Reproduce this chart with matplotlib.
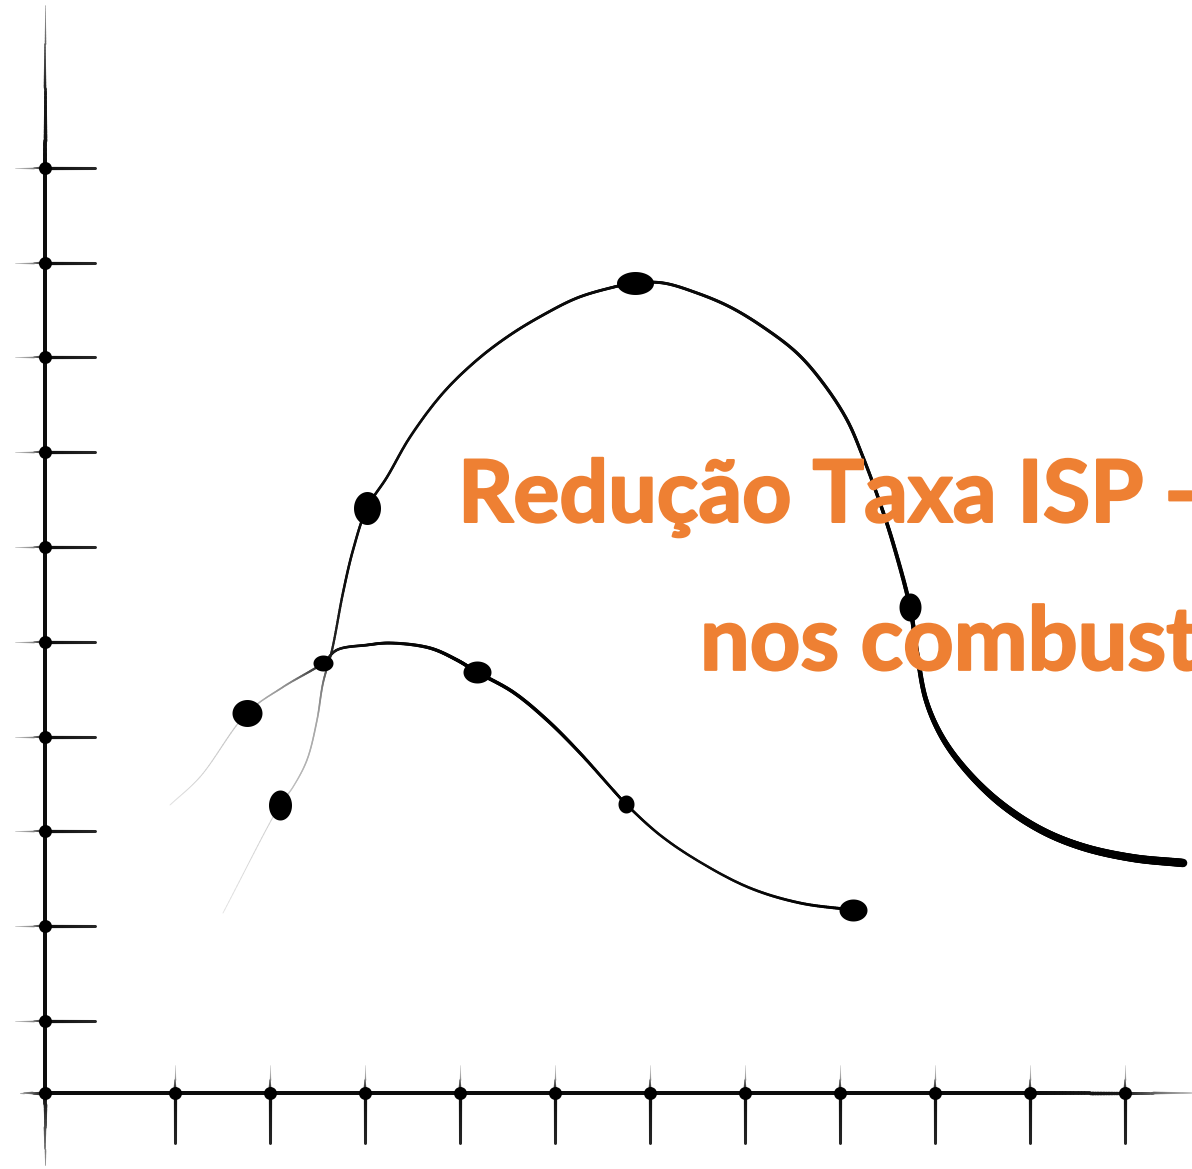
import numpy as np
import matplotlib
matplotlib.use("Agg")
import matplotlib.pyplot as plt
import matplotlib.patheffects as pe
from matplotlib.collections import LineCollection
from matplotlib.path import Path

# ---------------- data (axis units: tick k sits at integer k) ----------------
x_ticks = [1, 2, 3, 4, 5, 6, 7, 8, 9, 10, 11]
y_ticks = [1, 2, 3, 4, 5, 6, 7, 8, 9, 10]

curve_a_x = [1.505, 2.105, 2.242, 2.389, 2.495, 2.558, 2.653, 2.768, 2.874, 3.021,
             3.232, 3.474, 3.821, 4.179, 4.526, 4.874, 5.232, 5.579, 5.842, 6.137,
             6.495, 6.842, 7.189, 7.547, 7.821, 8.074, 8.242, 8.421, 8.558,
             8.737, 8.811, 8.905, 9.074, 9.326, 9.684, 10.116, 10.558, 11.084, 11.611]
curve_a_y = [2.139, 3.278, 3.468, 3.753, 4.175, 4.565, 4.914, 5.515, 5.968, 6.411,
             6.738, 7.160, 7.624, 7.973, 8.236, 8.447, 8.627, 8.732, 8.785, 8.785,
             8.679, 8.532, 8.321, 8.046, 7.730, 7.340, 6.949, 6.464, 6.042,
             5.367, 4.882, 4.386, 3.996, 3.648, 3.300, 3.015, 2.835, 2.719, 2.667]
curve_a_markers = [1, 9, 18, 29]

curve_b_x = [0.947, 1.263, 1.758, 2.137, 2.558, 2.705, 3.021, 3.263, 3.684, 3.968,
             4.179, 4.558, 4.916, 5.263, 5.611, 5.747, 6.105, 6.526, 7.053, 7.579, 8.137]
curve_b_y = [3.278, 3.574, 4.249, 4.523, 4.776, 4.914, 4.966, 4.987, 4.934, 4.808,
             4.681, 4.470, 4.175, 3.827, 3.437, 3.289, 2.962, 2.677, 2.403, 2.245, 2.171]
curve_b_markers = [2, 4, 10, 15, 20]

title_line1 = "Redução Taxa ISP -"
title_line2 = "nos combustíveis"

# ---------------- styles ----------------
PX = 0.72  # points per pixel at dpi=100
a_style_x = [1.505, 2.105, 2.5, 2.65, 2.8, 8.3, 8.74, 9.1, 9.7, 11.61]
a_style_w = [0.8, 1.0, 1.6, 2.2, 2.5, 3.2, 4.2, 5.5, 7.0, 8.5]
a_style_g = [0.88, 0.8, 0.65, 0.15, 0.05, 0.03, 0.0, 0.0, 0.0, 0.0]
a_marker_wh = [(23, 30), (27, 33), (37, 23), (22, 28)]

b_style_x = [0.947, 1.758, 2.2, 2.56, 2.8, 4.2, 5.0, 5.7, 6.5, 8.14]
b_style_w = [0.8, 1.2, 1.8, 2.4, 2.6, 3.6, 3.4, 2.6, 2.4, 3.0]
b_style_g = [0.88, 0.75, 0.55, 0.15, 0.05, 0.0, 0.0, 0.02, 0.05, 0.0]
b_marker_wh = [(30, 27), (20, 16), (28, 22), (16, 18), (28, 22)]

ORANGE = "#EE8033"

# ---------------- figure ----------------
fig = plt.figure(figsize=(11.92, 11.69), dpi=100)
ax = fig.add_axes([0, 0, 1, 1])
ax.set_xlim(-0.842, 11.705)
ax.set_ylim(-0.561, 11.77)
ax.axis("off")


def centripetal(xs, ys, n=30):
    P = np.column_stack([xs, ys]).astype(float)
    P = np.vstack([2 * P[0] - P[1], P, 2 * P[-1] - P[-2]])
    out = []
    for i in range(1, len(P) - 2):
        p0, p1, p2, p3 = P[i - 1], P[i], P[i + 1], P[i + 2]
        t0 = 0.0
        t1 = t0 + np.linalg.norm(p1 - p0) ** 0.5
        t2 = t1 + np.linalg.norm(p2 - p1) ** 0.5
        t3 = t2 + np.linalg.norm(p3 - p2) ** 0.5
        t = np.linspace(t1, t2, n, endpoint=False)[:, None]
        a1 = (t1 - t) / (t1 - t0) * p0 + (t - t0) / (t1 - t0) * p1
        a2 = (t2 - t) / (t2 - t1) * p1 + (t - t1) / (t2 - t1) * p2
        a3 = (t3 - t) / (t3 - t2) * p2 + (t - t2) / (t3 - t2) * p3
        b1 = (t2 - t) / (t2 - t0) * a1 + (t - t0) / (t2 - t0) * a2
        b2 = (t3 - t) / (t3 - t1) * a2 + (t - t1) / (t3 - t1) * a3
        c = (t2 - t) / (t2 - t1) * b1 + (t - t1) / (t2 - t1) * b2
        out.append(c)
    out.append(P[-2][None])
    return np.vstack(out)


def linear(xs, ys, n=60):
    pts = []
    t = np.linspace(0, 1, n, endpoint=False)
    for i in range(len(xs) - 1):
        pts.append(np.column_stack([xs[i] + (xs[i + 1] - xs[i]) * t, ys[i] + (ys[i + 1] - ys[i]) * t]))
    pts.append(np.array([[xs[-1], ys[-1]]]))
    return np.vstack(pts)


def draw_tapered(pts, par, knots, widths, greys, z=2):
    w = np.interp(par, knots, widths)
    g = np.interp(par, knots, greys)
    segs = np.stack([pts[:-1], pts[1:]], axis=1)
    wm = 0.5 * (w[:-1] + w[1:]) * PX
    gm = 0.5 * (g[:-1] + g[1:])
    cols = [(v, v, v) for v in gm]
    lc = LineCollection(segs, linewidths=wm, colors=cols, capstyle="round", joinstyle="round", zorder=z)
    ax.add_collection(lc)


def ellipse_marker(w, h):
    th = np.linspace(0, 2 * np.pi, 60)
    return Path(np.column_stack([w * np.cos(th), h * np.sin(th)]), closed=True)


# ---------------- axes (hand drawn) ----------------
axis_x = -0.368
axis_y = 0.2405
vy = [-0.52, axis_y, 10.0, 10.8, 11.72]
pts = linear([axis_x] * 5, vy)
draw_tapered(pts, pts[:, 1], vy, [0.8, 4.0, 4.0, 2.6, 0.6], [0.6, 0.05, 0.05, 0.1, 0.6], z=1)
hx = [-0.63, axis_x, 10.0, 11.0, 11.70]
pts = linear(hx, [axis_y] * 5)
draw_tapered(pts, pts[:, 0], hx, [1.0, 4.0, 4.0, 3.2, 1.5], [0.7, 0.05, 0.05, 0.1, 0.75], z=1)

for yt in y_ticks:
    tx = [-0.684, -0.48, axis_x, 0.158]
    pts = linear(tx, [yt] * 4)
    draw_tapered(pts, pts[:, 0], tx, [0.8, 1.5, 3.2, 3.0], [0.8, 0.5, 0.05, 0.15], z=1)
    ax.plot([axis_x], [yt], marker="o", ms=13 * PX, color="black", mec="none", zorder=1)
ax.plot([axis_x], [axis_y], marker="o", ms=13 * PX, color="black", mec="none", zorder=1)

for xt in x_ticks:
    ty = [0.536, 0.40, axis_y, -0.287]
    pts = linear([xt] * 4, ty)
    draw_tapered(pts, -pts[:, 1], [-v for v in ty], [0.7, 1.2, 3.2, 3.0], [0.85, 0.6, 0.05, 0.15], z=1)
    ax.plot([xt], [axis_y], marker="o", ms=13 * PX, color="black", mec="none", zorder=1)

# ---------------- curves ----------------
pa = centripetal(curve_a_x, curve_a_y)
draw_tapered(pa, pa[:, 0], a_style_x, a_style_w, a_style_g, z=3)
pb = centripetal(curve_b_x, curve_b_y)
draw_tapered(pb, pb[:, 0], b_style_x, b_style_w, b_style_g, z=3)

for k, (w, h) in zip(curve_a_markers, a_marker_wh):
    ax.plot([curve_a_x[k]], [curve_a_y[k]], marker=ellipse_marker(w, h), ms=max(w, h) * PX,
            color="black", mec="none", zorder=4)
for k, (w, h) in zip(curve_b_markers, b_marker_wh):
    ax.plot([curve_b_x[k]], [curve_b_y[k]], marker=ellipse_marker(w, h), ms=max(w, h) * PX,
            color="black", mec="none", zorder=4)

# ---------------- title text ----------------
font = ["Lato", "DejaVu Sans"]
fx = [pe.Stroke(linewidth=1.6, foreground=ORANGE), pe.Normal()]
ax.text(3.979, 6.265, title_line1, fontsize=62, fontweight="bold", family=font,
        color=ORANGE, ha="left", va="baseline", zorder=5, path_effects=fx)
ax.text(6.526, 4.705, title_line2, fontsize=63.5, fontweight="bold", family=font,
        color=ORANGE, ha="left", va="baseline", zorder=5, path_effects=fx)

fig.savefig("out.png", dpi=100)
